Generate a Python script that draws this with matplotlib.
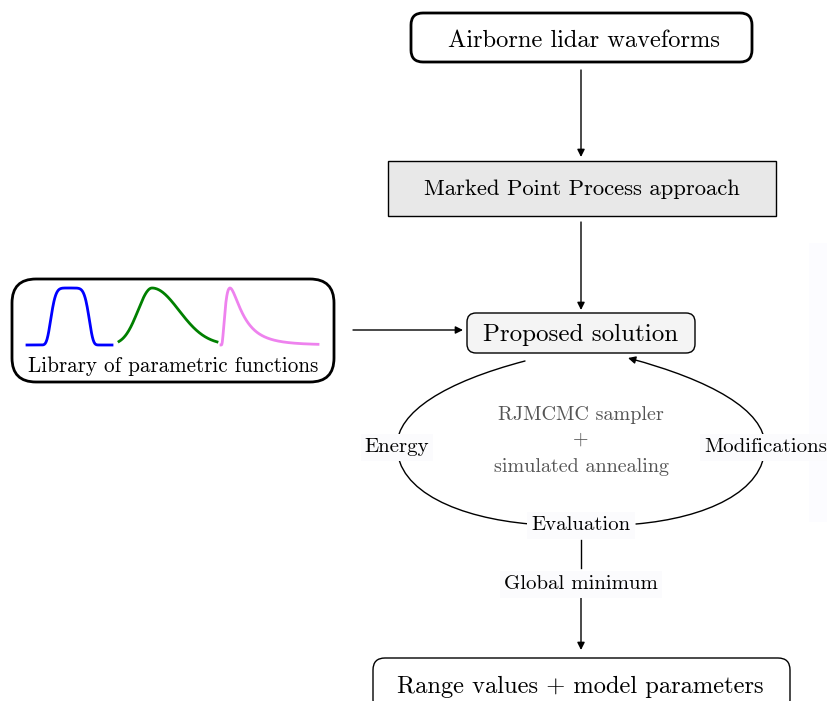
import numpy as np
import matplotlib.pyplot as plt
from matplotlib.patches import FancyBboxPatch, Rectangle, FancyArrowPatch
from matplotlib.path import Path

plt.rcParams['font.family'] = 'serif'
plt.rcParams['font.serif'] = ['cmr10', 'DejaVu Serif']
plt.rcParams['axes.formatter.use_mathtext'] = True

# node texts
top_label = "Airborne lidar waveforms"
mpp_label = "Marked Point Process approach"
sol_label = "Proposed solution"
lib_label = "Library of parametric functions"
out_label = "Range values + model parameters"
cycle_labels = ["Energy", "Evaluation", "Modifications"]
center_lines = ["RJMCMC sampler", "+", "simulated annealing"]
min_label = "Global minimum"

# waveform shapes of the library (parameters of each function)
blue_par = dict(center=70, width=20, power=6)
green_par = dict(peak=152, left=14, right=27)
pink_par = dict(start=221, peak_t=9, shape=0.8)

fig = plt.figure(figsize=(8.27, 7.01), dpi=100)
ax = fig.add_axes([0, 0, 1, 1])
ax.set_xlim(0, 827)
ax.set_ylim(701, 0)
ax.axis('off')

# faint band on the right
ax.add_patch(Rectangle((809, 243), 20, 279, facecolor='#fcfcff', edgecolor='none'))


def box(x0, y0, x1, y1, rounded, lw, fc='white'):
    if rounded:
        p = FancyBboxPatch((x0, y0), x1 - x0, y1 - y0,
                           boxstyle='round,pad=0,rounding_size=%d' % rounded,
                           facecolor=fc, edgecolor='black', lw=lw)
    else:
        p = Rectangle((x0, y0), x1 - x0, y1 - y0, facecolor=fc, edgecolor='black', lw=lw)
    ax.add_patch(p)


def arrow(p0, p1):
    ax.add_patch(FancyArrowPatch(p0, p1, arrowstyle='-|>', mutation_scale=11,
                                 lw=1, color='black', shrinkA=0, shrinkB=0))


# boxes
box(411, 13, 752, 62, 12, 2)
ax.text(584, 40.5, top_label, ha='center', va='center', fontsize=17.6)
arrow((581, 70), (581, 157))

box(388, 161, 776, 216, 0, 1, fc='#e8e8e8')
ax.text(582, 189.5, mpp_label, ha='center', va='center', fontsize=16.3)
arrow((581, 222), (581, 310))

box(467, 313, 695, 353, 9, 1, fc='#f4f4f4')
ax.text(581, 334.5, sol_label, ha='center', va='center', fontsize=18)

box(12, 279, 334, 382, 24, 2)
ax.text(173, 366.5, lib_label, ha='center', va='center', fontsize=15.2)
arrow((353, 330), (463, 330))

# library curves
base, amp = 345, 57
xb = np.linspace(27, 112, 200)
yb = np.exp(-np.abs((xb - blue_par['center']) / blue_par['width']) ** blue_par['power'])
ax.plot(xb, base - amp * yb, color='blue', lw=2)

xg = np.linspace(119, 217, 200)
sg = np.where(xg < green_par['peak'], green_par['left'], green_par['right'])
yg = np.exp(-0.5 * ((xg - green_par['peak']) / sg) ** 2)
ax.plot(xg, base - amp * yg, color='green', lw=2)

xp = np.linspace(pink_par['start'] + 0.01, 318, 300)
tp = xp - pink_par['start']
yp = np.exp(-np.log(tp / pink_par['peak_t']) ** 2 / (2 * pink_par['shape'] ** 2))
ax.plot(xp, base - amp * yp, color='violet', lw=2)

# cycle
left = Path([(525, 361), (445, 382), (397, 412), (397, 446),
             (397, 492), (460, 518), (530, 524)],
            [Path.MOVETO, Path.CURVE4, Path.CURVE4, Path.CURVE4,
             Path.CURVE4, Path.CURVE4, Path.CURVE4])
ax.add_patch(FancyArrowPatch(path=left, arrowstyle='-', lw=1, color='black'))
right = Path([(636, 524), (705, 518), (765, 492), (765, 446),
              (765, 410), (710, 380), (628, 358)],
             [Path.MOVETO, Path.CURVE4, Path.CURVE4, Path.CURVE4,
              Path.CURVE4, Path.CURVE4, Path.CURVE4])
ax.add_patch(FancyArrowPatch(path=right, arrowstyle='-|>', mutation_scale=11,
                             lw=1, color='black'))

lab_bbox = dict(facecolor='#fbfbfd', edgecolor='none', pad=3)
for lab, xy in zip(cycle_labels, [(397, 447.5), (581, 525.5), (766, 447.5)]):
    ax.text(xy[0], xy[1], lab, ha='center', va='center', fontsize=15, bbox=lab_bbox)

for line, y in zip(center_lines, [415.5, 440, 466.5]):
    ax.text(581, y, line, ha='center', va='center', fontsize=14.5, color='#555555')

ax.plot([581, 581], [540, 568], color='black', lw=1)
ax.text(581, 584.5, min_label, ha='center', va='center', fontsize=15, bbox=lab_bbox)
arrow((581, 598), (581, 650))

box(373, 658, 790, 712, 12, 1)
ax.text(580, 686.5, out_label, ha='center', va='center', fontsize=17.6)

fig.savefig('out.png', dpi=100)
